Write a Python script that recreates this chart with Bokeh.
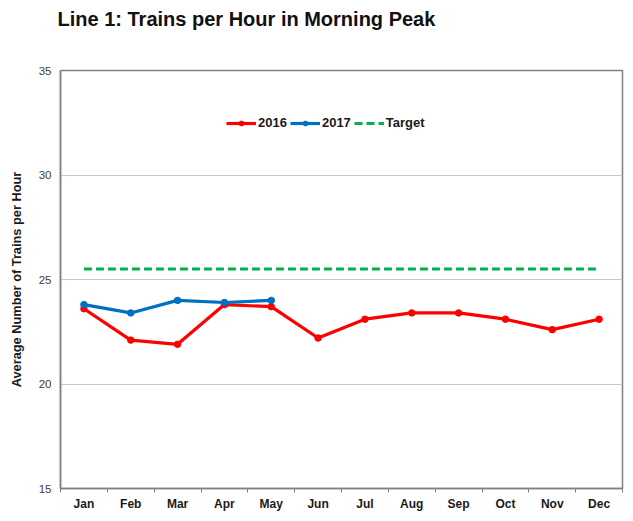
from bokeh.plotting import figure
from bokeh.models import FixedTicker, Legend, LegendItem, ColumnDataSource, Title
from bokeh.embed import file_html
from bokeh.resources import INLINE

months = ["Jan", "Feb", "Mar", "Apr", "May", "Jun", "Jul", "Aug", "Sep", "Oct", "Nov", "Dec"]
y2016 = [23.6, 22.1, 21.9, 23.8, 23.7, 22.2, 23.1, 23.4, 23.4, 23.1, 22.6, 23.1]
y2017 = [23.8, 23.4, 24.0, 23.9, 24.0]
target = [25.5] * 12
y_ticks = [15, 20, 25, 30, 35]

FONT = "Liberation Sans"
xs = list(range(1, 13))

p = figure(width=625, height=513, output_backend="svg", toolbar_location=None,
           title=None,
           x_range=(0.5, 12.5), y_range=(15, 35),
           min_border_left=60, min_border_right=3, min_border_top=70, min_border_bottom=22)
p.background_fill_color = "white"
p.border_fill_color = "white"
p.outline_line_color = "#808080"
p.outline_line_width = 1.5

# spacer (closest to the frame), then the real title above it
p.add_layout(Title(text=" ", text_font_size="1px", standoff=32), "above")
p.add_layout(Title(text="Line 1: Trains per Hour in Morning Peak",
                   text_font=FONT, text_font_style="bold", text_font_size="20px",
                   text_color="#111111", align="left", vertical_align="top",
                   offset=-3, standoff=8), "above")

# x axis
p.xaxis.ticker = FixedTicker(ticks=xs, minor_ticks=[i + 0.5 for i in range(0, 13)])
p.xaxis.major_label_overrides = {i + 1: m for i, m in enumerate(months)}
p.xaxis.major_tick_line_color = None
p.xaxis.major_tick_out = 0
p.xaxis.major_tick_in = 0
p.xaxis.minor_tick_line_color = "#808080"
p.xaxis.minor_tick_out = 4
p.xaxis.minor_tick_in = 0
p.xaxis.axis_line_color = "#808080"
p.xaxis.axis_line_width = 1.5
p.xaxis.major_label_text_font = FONT
p.xaxis.major_label_text_font_style = "bold"
p.xaxis.major_label_text_font_size = "12px"
p.xaxis.major_label_text_color = "#1a1a1a"
p.xaxis.major_label_standoff = 4
p.xgrid.grid_line_color = None

# y axis
p.yaxis.ticker = FixedTicker(ticks=y_ticks)
p.yaxis.major_tick_line_color = None
p.yaxis.major_tick_out = 0
p.yaxis.major_tick_in = 0
p.yaxis.minor_tick_line_color = None
p.yaxis.axis_line_color = "#808080"
p.yaxis.axis_line_width = 1.5
p.yaxis.major_label_text_font = FONT
p.yaxis.major_label_text_font_size = "11.5px"
p.yaxis.major_label_text_color = "#404040"
p.yaxis.major_label_standoff = 9
p.yaxis.axis_label = "Average Number of Trains per Hour"
p.yaxis.axis_label_text_font = FONT
p.yaxis.axis_label_text_font_style = "bold"
p.yaxis.axis_label_text_font_size = "12.8px"
p.yaxis.axis_label_text_color = "#1a1a1a"
p.yaxis.axis_label_standoff = 12
p.ygrid.grid_line_color = "#C8C8C8"
p.ygrid.grid_line_width = 1.2

src16 = ColumnDataSource(dict(x=xs, y=y2016))
src17 = ColumnDataSource(dict(x=xs[:len(y2017)], y=y2017))
srct = ColumnDataSource(dict(x=xs, y=target))

l16 = p.line("x", "y", source=src16, line_color="#FF0000", line_width=3.2)
s16 = p.scatter("x", "y", source=src16, marker="circle", size=6.5, fill_color="#FF0000", line_color="#FF0000")
l17 = p.line("x", "y", source=src17, line_color="#0070C0", line_width=3.2)
s17 = p.scatter("x", "y", source=src17, marker="circle", size=6.5, fill_color="#0070C0", line_color="#0070C0")
lt = p.line("x", "y", source=srct, line_color="#00B050", line_width=3, line_dash="8 4")

legend = Legend(items=[LegendItem(label="2016", renderers=[l16, s16]),
                       LegendItem(label="2017", renderers=[l17, s17]),
                       LegendItem(label="Target", renderers=[lt])],
                orientation="horizontal", location=(166, 358),
                border_line_color=None, background_fill_alpha=0,
                label_text_font=FONT, label_text_font_style="bold",
                label_text_font_size="13px", label_text_color="#1a1a1a",
                glyph_width=30, glyph_height=12, label_standoff=2, spacing=3,
                padding=2, margin=0)
p.add_layout(legend, "center")

open("out.html", "w").write(file_html(p, INLINE))
